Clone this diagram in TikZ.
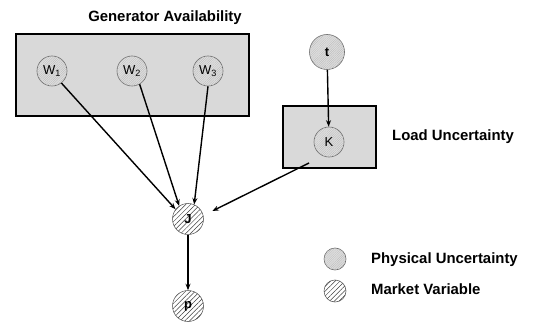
\documentclass[tikz,border=0pt]{standalone}
\usepackage{fontspec}
\setmainfont{Liberation Sans}
\usetikzlibrary{arrows.meta,patterns.meta,calc}
\begin{document}
\begin{tikzpicture}[x=1pt,y=-1pt,
  physvar/.style={circle,draw=black!60,line width=0.6pt,fill=black!13,inner sep=0pt,minimum size=30pt,
    font=\fontsize{13}{13}\selectfont,
    postaction={pattern={Lines[angle=45,distance=1.6pt,line width=0.3pt]},pattern color=black!28}},
  mktvar/.style={circle,draw=black!60,line width=0.6pt,fill=white,inner sep=0pt,minimum size=31pt,
    font=\bfseries\fontsize{13}{13}\selectfont,
    postaction={pattern={Lines[angle=45,distance=3.4pt,line width=0.5pt]},pattern color=black!75}},
  groupbox/.style={draw=black,line width=1.3pt,fill=black!15,inner sep=0pt},
  heading/.style={font=\bfseries\fontsize{14.9}{15}\selectfont,inner sep=0pt},
  arr/.style={-{Stealth[length=6.5pt,width=5pt]},line width=1.4pt}
]
\useasboundingbox[fill=white] (0,0) rectangle (537,323);
% boxes
\node[groupbox,minimum width=233pt,minimum height=82pt] (genbox) at (132.5,75) {};
\node[groupbox,minimum width=93pt,minimum height=62pt] (loadbox) at (329.5,137) {};
% headings
\node[heading,anchor=base] (gentitle) at (165,22) {Generator Availability};
\node[heading,anchor=base west] (loadtitle) at (392,141) {Load Uncertainty};
% variables
\node[physvar] (w1) at (52,71) {W\textsubscript{1}};
\node[physvar] (w2) at (132,71) {W\textsubscript{2}};
\node[physvar] (w3) at (208,71) {W\textsubscript{3}};
\node[physvar,minimum size=35pt] (t) at (327,52) {\bfseries t};
\node[physvar] (k) at (329,142) {K};
\node[mktvar] (j) at (188,219) {J};
\node[mktvar] (p) at (188,306) {p};
% connectors
\draw[arr] (w1.-52) -- (j.142);
\draw[arr] (w2.-60) -- (j.124);
\draw[arr] (w3.-90) -- (j.67);
\draw[arr] (t) -- (k);
\draw[arr,shorten >=10pt] ($(k.center)+(-20,21)$) -- (j.13);
\draw[arr] (j) -- (p);
% legend
\node[physvar,minimum size=22pt] (legphys) at (335,259) {};
\node[mktvar,minimum size=22pt] (legmkt) at (335,291) {};
\node[heading,anchor=base west] (legphyslab) at (371,263) {Physical Uncertainty};
\node[heading,anchor=base west] (legmktlab) at (371,294) {Market Variable};
\end{tikzpicture}
\end{document}
